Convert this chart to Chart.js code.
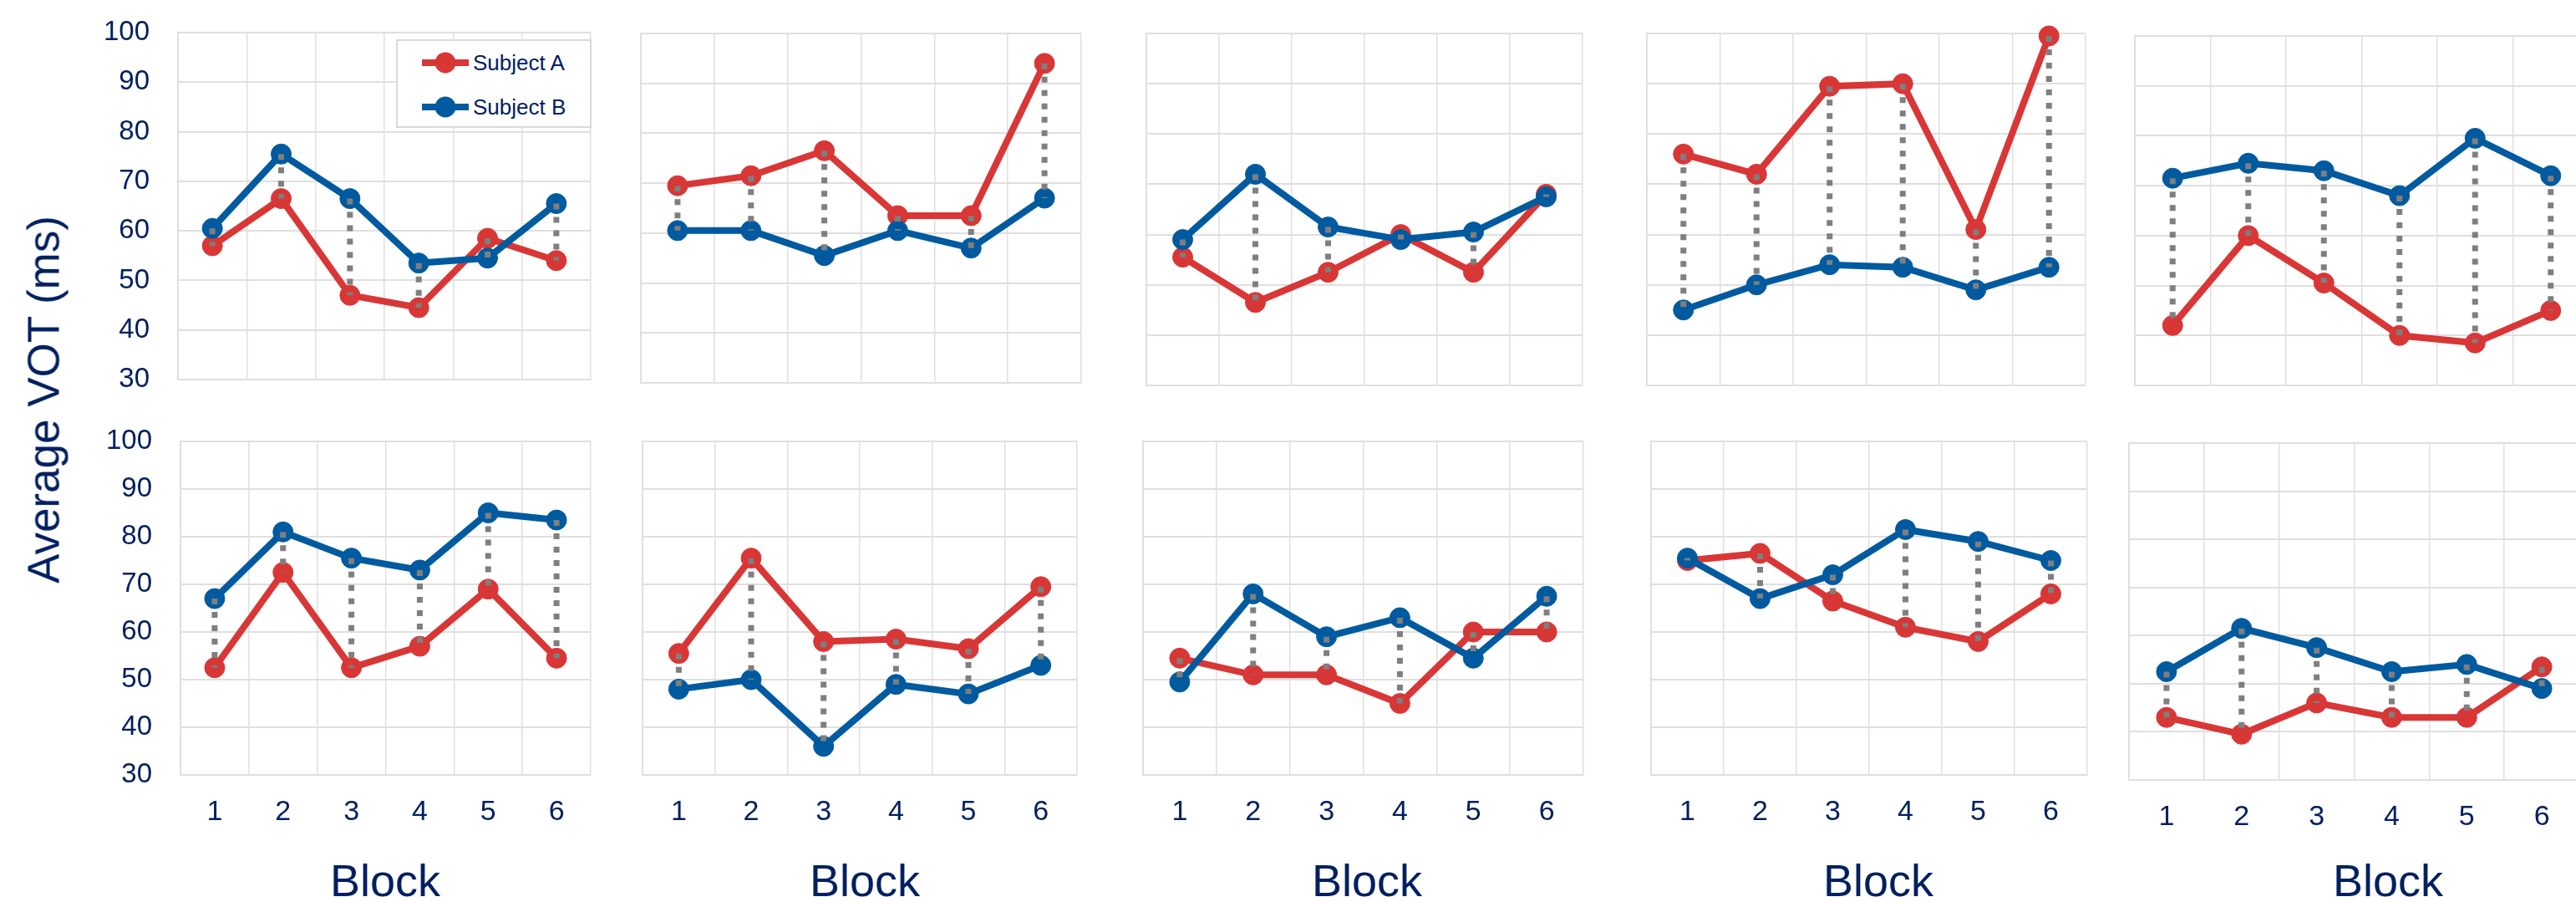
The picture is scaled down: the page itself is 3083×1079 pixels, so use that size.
<!DOCTYPE html>
<html>
<head>
<meta charset="utf-8">
<script src="https://cdn.jsdelivr.net/npm/chart.js@4.4.1/dist/chart.umd.min.js"></script>
<style>
  html, body { margin: 0; padding: 0; background: #fff; width: 3083px; height: 1079px; overflow: hidden; }
  #fig { position: relative; width: 3083px; height: 1079px; overflow: hidden;
         font-family: "Liberation Sans", Arial, sans-serif; color: #002060; }
  #fig canvas { position: absolute; }
  .xtitle { position: absolute; font-size: 54px; line-height: 1; transform: translate(-50%, -50%); white-space: nowrap; }
  #ytitle { position: absolute; left: 52px; top: 478px; font-size: 53px; line-height: 1;
            transform: translate(-50%, -50%) rotate(-90deg); white-space: nowrap; }
  #legend { position: absolute; left: 474px; top: 47px; width: 234px; height: 106px; z-index: 5;
            border: 2px solid #D9D9D9; background: #fff; box-sizing: border-box; }
  .lg-item { position: absolute; left: 27px; height: 30px; display: flex; align-items: center; font-size: 26px; }
  .lg-item svg { margin-right: 3px; }
</style>
</head>
<body>
<div id="fig">
  <div id="ytitle">Average VOT (ms)</div>
  <div id="legend">
    <div class="lg-item" style="top:11px"><svg width="60" height="30"><line x1="2" y1="15" x2="58" y2="15" stroke="#D93636" stroke-width="8"/><circle cx="30" cy="15" r="12.5" fill="#D93636"/></svg><span>Subject A</span></div>
    <div class="lg-item" style="top:64px"><svg width="60" height="30"><line x1="2" y1="15" x2="58" y2="15" stroke="#005AA0" stroke-width="8"/><circle cx="30" cy="15" r="12.5" fill="#005AA0"/></svg><span>Subject B</span></div>
  </div>
</div>
<script>
// Blocks on the x axis
const blocks = ['1', '2', '3', '4', '5', '6'];
const yTicks = { min: 30, max: 100, step: 10 };

// Average VOT (ms) per block, one pair of series per panel (top row, then bottom row)
const p1A  = [57, 66.5, 47, 44.5, 58.5, 54];
const p1B  = [60.5, 75.5, 66.5, 53.5, 54.5, 65.5];
const p2A  = [69.5, 71.5, 76.5, 63.5, 63.5, 94];
const p2B  = [60.5, 60.5, 55.5, 60.5, 57, 67];
const p3A  = [55.5, 46.5, 52.5, 60, 52.5, 68];
const p3B  = [59, 72, 61.5, 59, 60.5, 67.5];
const p4A  = [76, 72, 89.5, 90, 61, 99.5];
const p4B  = [45, 50, 54, 53.5, 49, 53.5];
const p5A  = [42, 60, 50.5, 40, 38.5, 45];
const p5B  = [71.5, 74.5, 73, 68, 79.5, 72];
const p6A  = [52.5, 72.5, 52.5, 57, 69, 54.5];
const p6B  = [67, 81, 75.5, 73, 85, 83.5];
const p7A  = [55.5, 75.5, 58, 58.5, 56.5, 69.5];
const p7B  = [48, 50, 36, 49, 47, 53];
const p8A  = [54.5, 51, 51, 45, 60, 60];
const p8B  = [49.5, 68, 59, 63, 54.5, 67.5];
const p9A  = [75, 76.5, 66.5, 61, 58, 68];
const p9B  = [75.5, 67, 72, 81.5, 79, 75];
const p10A = [43, 39.5, 46, 43, 43, 53.5];
const p10B = [52.5, 61.5, 57.5, 52.5, 54, 49];

const seriesNames = ['Subject A', 'Subject B'];

const RED = '#D93636', BLUE = '#005AA0', NAVY = '#002060', GRID = '#DFDFDF';
const FONT = '"Liberation Sans", Arial, sans-serif';

// Plot rectangles (left, top, right, bottom) in page pixels
const panels = [
  { a: p1A,  b: p1B,  l: 213,  t: 39,  r: 714,  btm: 454, yLab: true,  xLab: false },
  { a: p2A,  b: p2B,  l: 760,  t: 40,  r: 1301, btm: 458, yLab: false, xLab: false },
  { a: p3A,  b: p3B,  l: 1365, t: 40,  r: 1901, btm: 461, yLab: false, xLab: false },
  { a: p4A,  b: p4B,  l: 1964, t: 40,  r: 2503, btm: 461, yLab: false, xLab: false },
  { a: p5A,  b: p5B,  l: 2548, t: 43,  r: 3105, btm: 461, yLab: false, xLab: false },
  { a: p6A,  b: p6B,  l: 216,  t: 528, r: 714,  btm: 927, yLab: true,  xLab: true, title: 461 },
  { a: p7A,  b: p7B,  l: 762,  t: 528, r: 1296, btm: 927, yLab: false, xLab: true, title: 1035 },
  { a: p8A,  b: p8B,  l: 1361, t: 528, r: 1902, btm: 927, yLab: false, xLab: true, title: 1636 },
  { a: p9A,  b: p9B,  l: 1969, t: 528, r: 2505, btm: 927, yLab: false, xLab: true, title: 2248 },
  { a: p10A, b: p10B, l: 2541, t: 530, r: 3094, btm: 933, yLab: false, xLab: true, title: 2858 }
];

// Dotted grey drop lines joining the two subjects at each block
const dropLines = {
  id: 'dropLines',
  afterDatasetsDraw(chart) {
    const ptsA = chart.getDatasetMeta(0).data;
    const ptsB = chart.getDatasetMeta(1).data;
    const ctx = chart.ctx;
    ctx.save();
    ctx.strokeStyle = '#7F7F7F';
    ctx.lineWidth = 7;
    ctx.lineCap = 'butt';
    ctx.setLineDash([7, 9]);
    for (let i = 0; i < ptsA.length; i++) {
      const x = ptsA[i].x;
      const y0 = Math.min(ptsA[i].y, ptsB[i].y);
      const y1 = Math.max(ptsA[i].y, ptsB[i].y);
      ctx.beginPath();
      ctx.moveTo(x, y0);
      ctx.lineTo(x, y1);
      ctx.stroke();
    }
    ctx.restore();
  }
};

const fig = document.getElementById('fig');

panels.forEach((p) => {
  // room around each plot area for labels and marker overflow
  const padL = p.yLab ? 200 : 6;
  const padT = 64;
  const padR = 6;
  const padB = p.xLab ? 84 : 64;
  const w = (p.r - p.l) + padL + padR;
  const h = (p.btm - p.t) + padT + padB;

  const cv = document.createElement('canvas');
  cv.width = w; cv.height = h;
  cv.style.left = (p.l - padL) + 'px';
  cv.style.top = (p.t - padT) + 'px';
  cv.style.width = w + 'px';
  cv.style.height = h + 'px';
  fig.appendChild(cv);

  const lineSet = (label, data, color, order) => ({
    label, data, order,
    borderColor: color, backgroundColor: color,
    borderWidth: 8,
    pointRadius: 12, pointHoverRadius: 12,
    pointBackgroundColor: color, pointBorderColor: color, pointBorderWidth: 1,
    tension: 0, clip: false
  });

  new Chart(cv, {
    type: 'line',
    data: {
      labels: blocks,
      datasets: [
        lineSet(seriesNames[0], p.a, RED, 2),
        lineSet(seriesNames[1], p.b, BLUE, 1)
      ]
    },
    options: {
      responsive: false,
      devicePixelRatio: 1,
      animation: false,
      layout: { padding: { top: padT, right: padR, left: 0, bottom: 0 } },
      plugins: { legend: { display: false }, tooltip: { enabled: false } },
      scales: {
        x: {
          type: 'category',
          offset: true,
          ticks: { display: p.xLab, color: NAVY, font: { family: FONT, size: 34 }, padding: 24, maxRotation: 0 },
          grid: { color: GRID, lineWidth: 1.5, drawTicks: false, offset: true },
          border: { display: true, color: GRID, width: 2 },
          afterFit(s) { s.height = padB; }
        },
        y: {
          min: yTicks.min,
          max: yTicks.max,
          ticks: { display: p.yLab, stepSize: yTicks.step, color: NAVY, font: { family: FONT, size: 33 }, padding: 34 },
          grid: { color: GRID, lineWidth: 2, drawTicks: false },
          border: { display: true, color: GRID, width: 2 },
          afterFit(s) { s.width = padL; }
        }
      }
    },
    plugins: [dropLines]
  });

  if (p.title) {
    const t = document.createElement('div');
    t.className = 'xtitle';
    t.textContent = 'Block';
    t.style.left = p.title + 'px';
    t.style.top = '1053px';
    fig.appendChild(t);
  }
});

// keep the legend and axis title above the panels
fig.appendChild(document.getElementById('legend'));
fig.appendChild(document.getElementById('ytitle'));
</script>
</body>
</html>
